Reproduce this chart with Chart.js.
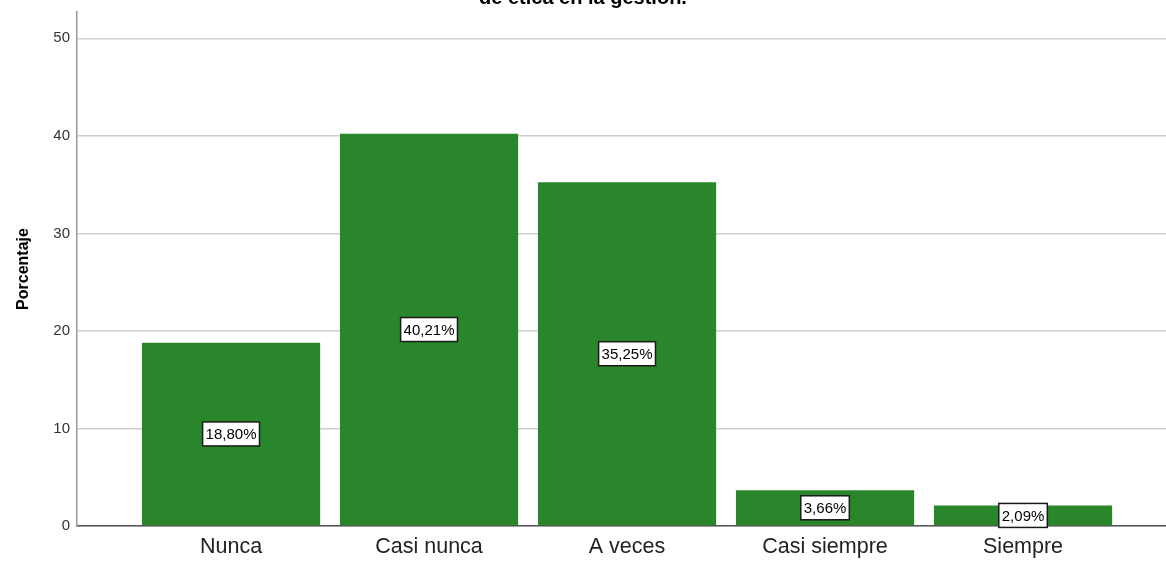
<!DOCTYPE html>
<html lang="es">
<head>
<meta charset="utf-8">
<title>Porcentaje</title>
<script src="https://cdn.jsdelivr.net/npm/chart.js@4.4.1/dist/chart.umd.min.js"></script>
<style>
  html, body { margin: 0; padding: 0; background: #fff; }
  #wrap { width: 1166px; height: 561px; position: relative; }
</style>
</head>
<body>
<div id="wrap"><canvas id="myChart"></canvas></div>
<script>
// Chart data
const categories = ["Nunca", "Casi nunca", "A veces", "Casi siempre", "Siempre"];
const percentages = [18.80, 40.21, 35.25, 3.66, 2.09];
const yTicks = [0, 10, 20, 30, 40, 50];
const titleText = "de ética en la gestión.";
const yTitle = "Porcentaje";

const barColor = "#2a862a";
const fontFamily = "'Liberation Sans', Arial, sans-serif";

// Bars sit on a linear x axis so the axis can run wider than the categories
const points = percentages.map((v, i) => ({ x: i + 1, y: v }));

// Boxed value labels in the middle of each bar
const valueBoxes = {
  id: "valueBoxes",
  afterDatasetsDraw(chart) {
    const ctx = chart.ctx;
    const meta = chart.getDatasetMeta(0);
    ctx.save();
    ctx.font = "15px " + fontFamily;
    ctx.textAlign = "center";
    ctx.textBaseline = "middle";
    meta.data.forEach((bar, i) => {
      const text = percentages[i].toFixed(2).replace(".", ",") + "%";
      const cx = bar.x;
      const cy = (bar.y + bar.base) / 2;
      const w = ctx.measureText(text).width + 6;
      const h = 24;
      ctx.fillStyle = "#ffffff";
      ctx.fillRect(cx - w / 2, cy - h / 2, w, h);
      ctx.strokeStyle = "#1a1a1a";
      ctx.lineWidth = 1.5;
      ctx.strokeRect(cx - w / 2, cy - h / 2, w, h);
      ctx.fillStyle = "#000000";
      ctx.fillText(text, cx, cy + 1);
    });
    ctx.restore();
  }
};

const config = {
  type: "bar",
  data: {
    datasets: [{
      data: points,
      backgroundColor: barColor,
      borderWidth: 0,
      barPercentage: 0.9,
      categoryPercentage: 1.0
    }]
  },
  options: {
    responsive: true,
    maintainAspectRatio: false,
    animation: false,
    layout: { padding: 0 },
    plugins: {
      legend: { display: false },
      tooltip: { enabled: false },
      title: {
        display: true,
        text: titleText,
        color: "#000",
        font: { family: fontFamily, size: 20, weight: "bold" },
        padding: { top: -13.5, bottom: 1.5 }
      }
    },
    scales: {
      x: {
        type: "linear",
        offset: false,
        min: 0.222,
        max: 5.722,
        afterBuildTicks: (scale) => {
          scale.ticks = categories.map((c, i) => ({ value: i + 1 }));
        },
        afterFit: (scale) => { scale.height = 35; },
        ticks: {
          callback: (value) => categories[value - 1],
          color: "#222",
          padding: 8,
          maxRotation: 0,
          autoSkip: false,
          font: { family: fontFamily, size: 21.5 }
        },
        grid: { display: false, drawTicks: false, offset: false },
        border: { display: true, color: "#555", width: 1.5 }
      },
      y: {
        min: 0,
        max: 52.7,
        afterBuildTicks: (scale) => {
          scale.ticks = yTicks.map(v => ({ value: v }));
        },
        afterFit: (scale) => {
          scale.width = 77;
          // the top tick sits well below the max, no room needed for its label
          scale.paddingTop = 0;
          scale.paddingBottom = 0;
        },
        ticks: {
          color: "#333",
          padding: 7,
          font: { family: fontFamily, size: 15 }
        },
        grid: { color: "#cfcfcf", lineWidth: 1.5, drawTicks: false },
        border: { display: true, color: "#999", width: 1.5 },
        title: {
          display: true,
          text: yTitle,
          color: "#000",
          padding: { top: 14, bottom: 0 },
          font: { family: fontFamily, size: 16, weight: "bold" }
        }
      }
    }
  },
  plugins: [valueBoxes]
};

// Render the graph
const myChart = new Chart(document.getElementById("myChart"), config);
</script>
</body>
</html>
